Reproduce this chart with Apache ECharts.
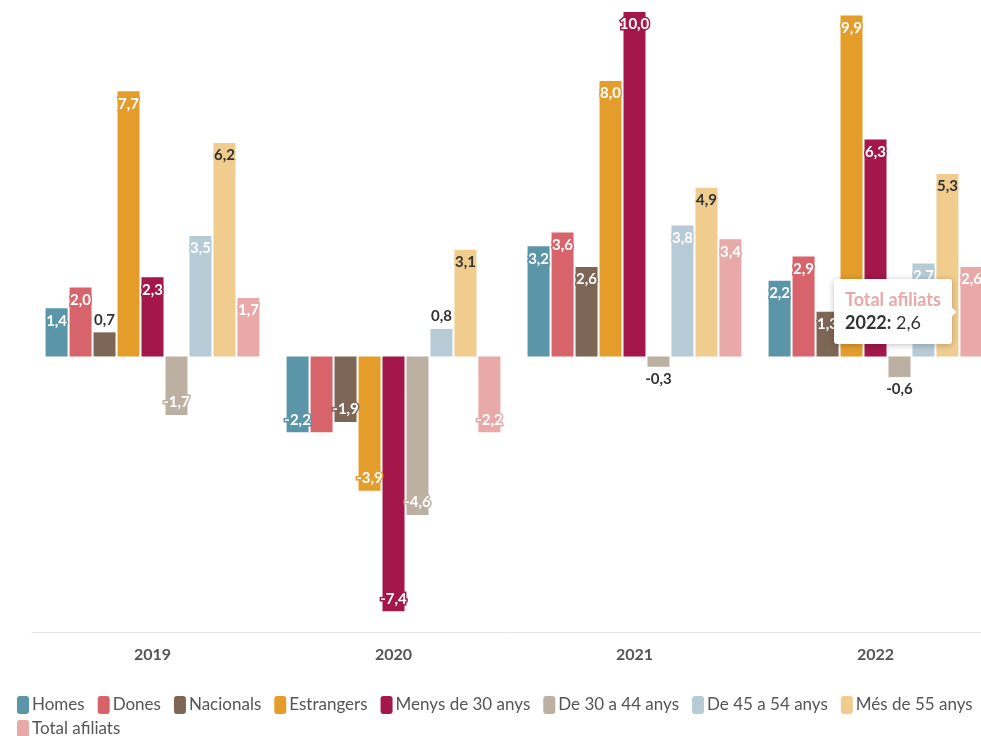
<!DOCTYPE html>
<html>
<head>
<meta charset="utf-8">
<script src="https://cdn.jsdelivr.net/npm/echarts@6/dist/echarts.min.js"></script>
<style>
html,body{margin:0;padding:0;background:#fff;}
#chart{width:981px;height:736px;}
</style>
</head>
<body>
<div id="chart"></div>
<script>
const categories = ['2019', '2020', '2021', '2022'];
const seriesNames = ['Homes', 'Dones', 'Nacionals', 'Estrangers', 'Menys de 30 anys', 'De 30 a 44 anys', 'De 45 a 54 anys', 'Més de 55 anys', 'Total afiliats'];
const homes = [1.4, -2.2, 3.2, 2.2];
const dones = [2.0, -2.2, 3.6, 2.9];
const nacionals = [0.7, -1.9, 2.6, 1.3];
const estrangers = [7.7, -3.9, 8.0, 9.9];
const menys30 = [2.3, -7.4, 10.0, 6.3];
const de30a44 = [-1.7, -4.6, -0.3, -0.6];
const de45a54 = [3.5, 0.8, 3.8, 2.7];
const mes55 = [6.2, 3.1, 4.9, 5.3];
const total = [1.7, -2.2, 3.4, 2.6];
const seriesValues = [homes, dones, nacionals, estrangers, menys30, de30a44, de45a54, mes55, total];
const colors = ['#5a96a8', '#d8646b', '#7d6656', '#e49d2b', '#a3174a', '#bcb0a3', '#b6cbd6', '#f0cd8f', '#e8a9a8'];
const darkLabel = [false, false, false, false, false, false, false, true, false];

const fmt = v => v.toFixed(1).replace('.', ',');
const FONT = 'Lato';

const series = seriesValues.map((vals, si) => ({
  name: seriesNames[si],
  type: 'bar',
  barWidth: 22,
  barGap: '9%',
  itemStyle: { color: colors[si] },
  emphasis: { disabled: true },
  labelLayout: { hideOverlap: true },
  data: vals.map(v => {
    const small = Math.abs(v) < 1;
    return {
      value: v,
      label: small ? {
        show: true,
        position: v >= 0 ? 'top' : 'bottom',
        distance: 5,
        color: '#333',
        textBorderColor: '#fff',
        textBorderWidth: 2
      } : {
        show: true,
        position: v >= 0 ? 'insideTop' : 'insideBottom',
        distance: 5,
        color: darkLabel[si] ? '#333' : '#fff',
        textBorderColor: colors[si],
        textBorderWidth: 3
      }
    };
  }),
  label: {
    show: true,
    fontFamily: FONT,
    fontWeight: 'bold',
    fontSize: 15,
    formatter: p => fmt(p.value)
  }
}));

const legendBase = {
  itemWidth: 12,
  itemHeight: 18,
  itemGap: 13,
  icon: 'roundRect',
  textStyle: { fontFamily: FONT, fontSize: 17, color: '#555', padding: [0, 0, 0, -2] }
};

const chart = echarts.init(document.getElementById('chart'));
chart.setOption({
  animation: false,
  color: colors,
  textStyle: { fontFamily: FONT },
  grid: { left: 32, width: 964, top: 12, bottom: 104, outerBoundsMode: 'none', containLabel: false },
  tooltip: {
    trigger: 'item',
    position: 'left',
    alwaysShowContent: true,
    backgroundColor: '#fff',
    borderColor: '#fff',
    borderWidth: 0,
    padding: [9, 11],
    extraCssText: 'box-shadow:0 1px 6px rgba(0,0,0,0.25);border-radius:3px;',
    formatter: p => '<div style="font-family:Lato;font-weight:bold;font-size:18px;color:' + colors[p.seriesIndex] + ';line-height:22px">' + p.seriesName + '</div>' +
      '<div style="font-family:Lato;font-size:18px;color:#333;line-height:25px"><b>' + p.name + ':</b> ' + fmt(p.value) + '</div>'
  },
  legend: [
    Object.assign({ left: 12, top: 691, data: seriesNames.slice(0, 8) }, legendBase),
    Object.assign({ left: 12, top: 715, data: seriesNames.slice(8) }, legendBase)
  ],
  xAxis: {
    type: 'category',
    data: categories,
    axisLine: { onZero: false, lineStyle: { color: '#e6e6e6' } },
    axisTick: { alignWithLabel: true, length: 6, lineStyle: { color: '#e6e6e6' } },
    axisLabel: { fontFamily: FONT, fontWeight: 'bold', fontSize: 16, color: '#555', margin: 15 }
  },
  yAxis: {
    type: 'value',
    min: -8,
    max: 10,
    show: false
  },
  series: series
});
chart.dispatchAction({ type: 'showTip', seriesIndex: 8, dataIndex: 3 });
</script>
</body>
</html>
